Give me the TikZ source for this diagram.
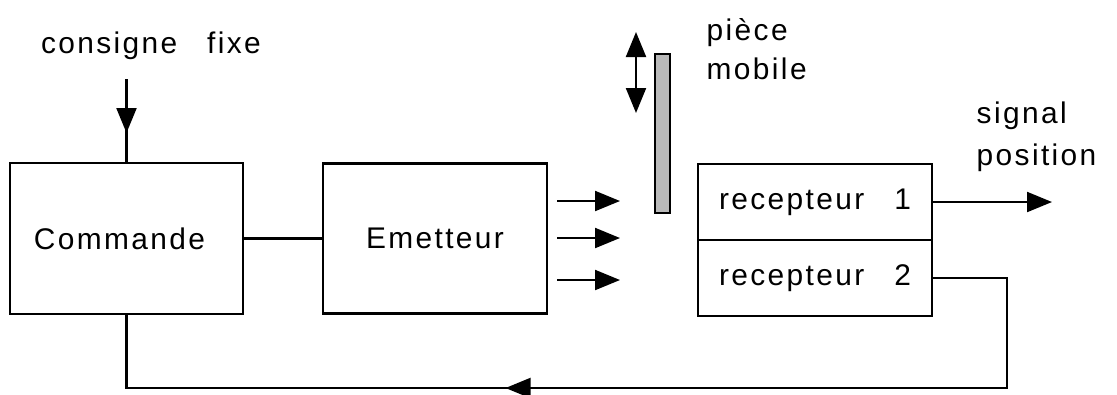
\documentclass[tikz,border=0pt]{standalone}
\usepackage{fontspec}
\setmainfont[LetterSpace=8]{Liberation Sans}
\usepackage{tikz}
\usetikzlibrary{positioning,arrows.meta,decorations.markings}

\begin{document}
\begin{tikzpicture}[font=\fontsize{8.5}{11}\selectfont,>={Triangle[length=2.5mm,width=2mm]},
    blk/.style={draw=black,line width=0.7pt,inner sep=0pt,outer sep=0pt,align=center},
    rcv/.style={blk,minimum width=23.4mm,minimum height=7.6mm},
    wire/.style={line width=0.6pt},
    lbl/.style={inner sep=0pt,align=left},
    midarr/.style={wire,postaction={decorate},decoration={markings,mark=at position #1 with {\arrow{>}}}}]
  \useasboundingbox (0,0) rectangle (11.17,3.94);
  \node[blk,minimum width=23.3mm,minimum height=15.1mm] (com) at (1.265,1.555) {Commande\hspace{1.4mm}};
  \node[blk,minimum width=22.4mm,minimum height=15mm] (emt) at (4.35,1.555) {Emetteur};
  \node[rcv] (rec1) at (8.15,1.92) {recepteur\quad 1};
  \node[rcv,below=0pt of rec1] (rec2) {recepteur\quad 2};
  \node[draw,fill=gray!55,minimum width=1.5mm,minimum height=15.9mm,inner sep=0pt] (bar) at (6.625,2.605) {};
  % labels
  \node[lbl,anchor=base] (cons) at (1.51,3.41) {consigne\quad fixe};
  \node[lbl,anchor=north west] (piece) at (7.06,3.76) {pièce\\mobile};
  \node[lbl,anchor=north west] (sig) at (9.76,2.93) {signal\\[1pt]position};
  \coordinate (cin) at ([yshift=8.4mm]com.north);
  \coordinate (mvtop) at (6.36,3.62);
  \coordinate (mvbot) at (6.36,2.81);
  \coordinate (sigout) at ([xshift=12mm]rec1.east);
  \coordinate (fbr) at (10.07,0.06);
  % connectors
  \draw[midarr=0.54cm] (cin) -- (com.north);
  \draw[wire] (com) -- (emt);
  \foreach \y [count=\i] in {1.93,1.56,1.14} {
    \coordinate (ray\i) at (5.57,\y);
    \draw[wire,->] (ray\i) -- ++(0.63,0);
  }
  \draw[wire,<->] (mvtop) -- (mvbot);
  \draw[wire,->] (rec1.east) -- (sigout);
  \draw[midarr=6.865cm] (rec2.east) -| (fbr) -- (com.south |- fbr) -- (com.south);
\end{tikzpicture}
\end{document}
